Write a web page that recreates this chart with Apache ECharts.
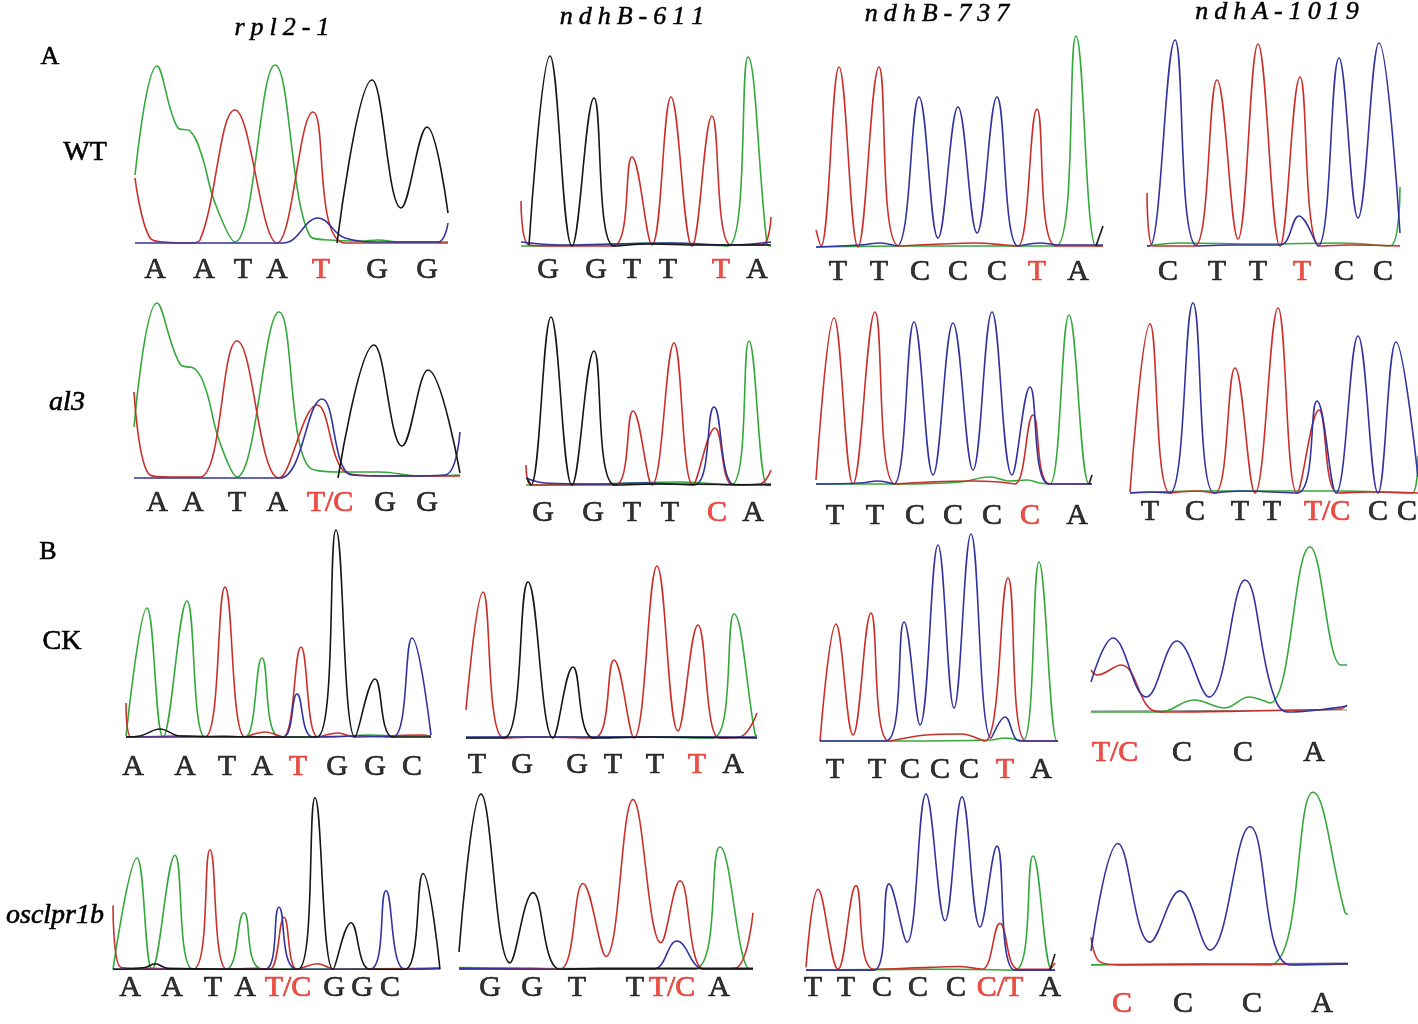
<!DOCTYPE html>
<html>
<head>
<meta charset="utf-8">
<title>chromatograms</title>
<script src="https://cdn.jsdelivr.net/npm/echarts@6/dist/echarts.min.js"></script>
<style>
  html, body { margin: 0; padding: 0; background: #fff; }
  #chart { width: 1418px; height: 1024px; }
</style>
</head>
<body>
<div id="chart"></div>
<script>
// each trace: [position, signal]; position counted from the panel's left edge,
// signal counted up from the panel's baseline

// ---- A / WT ----
const rplWT_A = [[0,68],[22,177],[43,115],[55,112],[66,90],[80,40],[100,1],[140,178],[175,7],[195,3],[225,2],[243,3],[265,1],[313,1]]
const rplWT_T = [[0,65],[15,5],[30,1],[55,0],[65,3],[100,133],[142,0],[178,131],[210,0],[313,0]]
const rplWT_C = [[0,0],[148,0],[183,25],[210,5],[245,1],[303,1],[313,20]]
const rplWT_G = [[202,0],[237,163],[266,35],[292,116],[313,30]]
const rplWT_bases = ['A','A','T','A','T','G','G']
const rplWT_pos = [20,69,108,142,186,242,292]

const b611WT_G = [[8,1],[29,190],[51,0],[73,148],[93,0],[129,2],[179,1],[250,1]]
const b611WT_T = [[0,45],[8,1],[39,0],[92,0],[111,89],[131,1],[150,149],[171,0],[191,130],[210,1],[241,1],[250,29]]
const b611WT_A = [[0,0],[79,1],[139,3],[207,0],[227,189],[246,2],[250,0]]
const b611WT_C = [[0,4],[40,1],[90,2],[150,3],[210,1],[250,4]]
const b611WT_bases = ['G','G','T','T','T','A']
const b611WT_pos = [27,75,111,147,200,236]

const b737WT_T = [[0,17],[5,1],[23,180],[42,0],[63,180],[83,1],[124,3],[159,4],[189,2],[202,1],[221,138],[240,1],[287,1]]
const b737WT_C = [[0,0],[44,2],[64,4],[81,1],[103,150],[122,9],[142,140],[161,14],[181,150],[202,1],[224,4],[244,2],[287,2]]
const b737WT_A = [[0,0],[84,1],[194,1],[240,1],[260,211],[280,1],[287,1]]
const b737WT_G = [[280,1],[287,21]]
const b737WT_bases = ['T','T','C','C','C','T','A']
const b737WT_pos = [22,63,104,142,181,221,262]

const a1019WT_T = [[0,54],[6,1],[28,1],[48,1],[70,167],[91,8],[111,203],[133,1],[153,170],[173,1],[203,2],[253,1]]
const a1019WT_C = [[0,1],[3,1],[28,207],[50,1],[83,2],[133,2],[152,31],[171,1],[192,189],[211,29],[232,204],[253,14]]
const a1019WT_A = [[0,1],[33,4],[113,3],[193,4],[243,1],[253,60]]
const a1019WT_bases = ['C','T','T','T','C','C']
const a1019WT_pos = [21,70,111,155,197,236]

// ---- A / al3 ----
const rplAl_A = [[0,51],[23,175],[46,114],[61,109],[72,88],[85,38],[103,1],[145,166],[176,10],[211,6],[246,6],[286,2],[326,3]]
const rplAl_T = [[0,86],[16,3],[36,1],[66,1],[103,137],[145,0],[183,73],[213,5],[246,2],[326,2]]
const rplAl_C = [[0,0],[106,0],[146,0],[188,79],[218,3],[266,2],[311,3],[326,46]]
const rplAl_G = [[204,0],[240,133],[268,32],[294,108],[326,5]]
const rplAl_bases = ['A','A','T','A','T/C','G','G']
const rplAl_pos = [23,59,103,143,196,251,293]

const b611Al_G = [[1,7],[5,0],[25,168],[46,0],[68,134],[89,0],[134,1],[245,0]]
const b611Al_T = [[0,20],[5,0],[44,0],[89,0],[107,74],[126,0],[148,142],[167,0],[189,57],[207,0],[234,1],[245,15]]
const b611Al_C = [[0,7],[19,2],[74,1],[114,2],[168,0],[188,78],[209,0],[245,1]]
const b611Al_A = [[0,0],[74,1],[154,3],[205,0],[223,144],[241,0],[245,0]]
const b611Al_bases = ['G','G','T','T','C','A']
const b611Al_pos = [17,67,106,144,191,227]

const b737Al_T = [[0,4],[18,166],[37,0],[59,172],[79,0],[114,2],[154,3],[184,2],[199,0],[217,69],[234,0],[276,0]]
const b737Al_C = [[0,0],[44,1],[62,3],[78,0],[98,162],[117,9],[137,161],[157,14],[176,172],[196,9],[214,97],[233,0],[276,0]]
const b737Al_A = [[0,0],[84,0],[144,2],[174,7],[194,3],[211,4],[224,1],[234,0],[253,169],[273,0],[276,0]]
const b737Al_G = [[273,0],[276,9]]
const b737Al_bases = ['T','T','C','C','C','C','A']
const b737Al_pos = [19,59,99,137,176,214,261]

const a1019Al_T = [[0,1],[20,169],[40,0],[65,2],[85,0],[105,125],[125,0],[148,185],[167,0],[189,83],[208,0],[240,1],[288,0]]
const a1019Al_C = [[0,0],[20,1],[40,0],[63,190],[84,0],[110,2],[167,0],[187,92],[206,0],[228,157],[248,0],[266,151],[288,16]]
const a1019Al_A = [[0,0],[70,2],[150,2],[210,2],[282,0],[288,37]]
const a1019Al_bases = ['T','C','T','T','T/C','C','C']
const a1019Al_pos = [20,65,110,142,197,248,277]

// ---- B / CK ----
const rplCK_A = [[0,1],[21,129],[37,0],[61,136],[79,0],[99,1],[119,0],[136,79],[154,0],[204,0],[244,2],[274,1],[305,1]]
const rplCK_T = [[0,34],[5,0],[54,1],[79,0],[99,150],[119,0],[139,5],[157,0],[175,90],[192,0],[212,4],[229,0],[294,2],[305,1]]
const rplCK_C = [[0,0],[124,0],[157,0],[171,43],[187,0],[234,1],[267,0],[286,99],[305,2]]
const rplCK_G = [[0,0],[14,1],[34,8],[54,1],[191,0],[210,207],[229,0],[249,58],[267,0],[305,0]]
const rplCK_bases = ['A','A','T','A','T','G','G','C']
const rplCK_pos = [7,59,101,136,172,211,249,286]

const b611CK_T = [[0,28],[17,146],[38,0],[74,1],[128,0],[148,78],[168,0],[191,172],[212,7],[232,113],[253,0],[274,1],[291,25]]
const b611CK_G = [[0,0],[38,0],[62,156],[87,0],[107,71],[128,0],[184,1],[291,0]]
const b611CK_A = [[0,0],[64,1],[154,1],[247,0],[268,124],[289,4],[291,2]]
const b611CK_C = [[0,1],[100,1],[200,1],[291,1]]
const b611CK_bases = ['T','G','G','T','T','T','A']
const b611CK_pos = [11,56,111,147,189,231,267]

const b737CK_T = [[0,0],[16,117],[33,6],[51,128],[69,0],[106,6],[141,7],[165,0],[188,163],[206,0],[238,0]]
const b737CK_C = [[0,0],[66,0],[84,119],[100,16],[118,196],[134,33],[151,207],[171,3],[185,24],[200,0],[238,0]]
const b737CK_A = [[0,0],[80,0],[170,1],[185,3],[203,0],[219,179],[237,0],[238,0]]
const b737CK_bases = ['T','T','C','C','C','T','A']
const b737CK_pos = [15,57,90,120,149,185,221]

const a1019CK_C = [[0,30],[22,74],[55,15],[86,71],[118,15],[154,132],[181,22],[197,0],[256,6]]
const a1019CK_T = [[0,42],[6,37],[30,47],[61,2],[74,0],[159,1],[209,2],[249,3],[256,7]]
const a1019CK_A = [[0,0],[69,0],[103,12],[134,4],[158,15],[179,9],[219,165],[250,47],[256,47]]
const a1019CK_G = [[0,1],[256,2]]
const a1019CK_bases = ['T/C','C','C','A']
const a1019CK_pos = [24,91,152,223]

// ---- B / osclpr1b ----
const rplOs_T = [[0,70],[8,2],[37,1],[80,0],[97,131],[114,0],[142,1],[157,0],[171,57],[184,0],[205,6],[222,0],[327,1]]
const rplOs_A = [[0,0],[24,122],[39,0],[62,125],[80,0],[113,0],[131,62],[150,0],[327,1]]
const rplOs_C = [[0,0],[152,0],[166,68],[184,0],[257,0],[273,86],[292,0],[327,1]]
const rplOs_G = [[0,0],[32,2],[42,6],[55,1],[185,0],[202,188],[220,0],[238,51],[257,0],[292,0],[310,105],[327,0]]
const rplOs_bases = ['A','A','T','A','T/C','G','G','C']
const rplOs_pos = [17,59,100,132,175,221,249,277]

const b611Os_G = [[0,19],[22,192],[51,7],[74,84],[101,0],[141,1],[294,1]]
const b611Os_T = [[0,0],[71,1],[101,0],[124,94],[147,14],[174,186],[202,29],[221,97],[245,0],[276,1],[294,62]]
const b611Os_C = [[0,1],[101,0],[194,0],[218,31],[245,0],[294,0]]
const b611Os_A = [[0,2],[61,1],[235,0],[261,134],[291,0],[294,0]]
const b611Os_bases = ['G','G','T','T','T/C','A']
const b611Os_pos = [31,73,118,176,213,260]

const b737Os_T = [[0,3],[12,90],[32,1],[50,94],[68,1],[124,3],[154,4],[176,1],[194,52],[212,1],[242,1],[249,8]]
const b737Os_C = [[0,0],[68,0],[83,96],[101,31],[120,196],[139,55],[156,193],[174,48],[191,138],[209,0],[249,0]]
const b737Os_A = [[0,0],[144,1],[209,0],[227,127],[246,0],[249,0]]
const b737Os_G = [[244,0],[249,18]]
const b737Os_bases = ['T','T','C','C','C','C/T','A']
const b737Os_pos = [7,40,76,112,150,194,244]

const a1019Os_C = [[0,14],[27,123],[59,23],[89,75],[119,15],[159,140],[199,0],[257,1]]
const a1019Os_T = [[0,28],[9,3],[29,0],[257,1]]
const a1019Os_A = [[0,0],[109,1],[179,0],[222,175],[254,53],[257,51]]
const a1019Os_G = [[0,0],[257,2]]
const a1019Os_bases = ['C','C','C','A']
const a1019Os_pos = [31,92,161,231]

const columnTitles = ['rpl2-1', 'ndhB-611', 'ndhB-737', 'ndhA-1019']
const rowLabels = ['WT', 'al3', 'CK', 'osclpr1b']
const partLabels = ['A', 'B']

// panel placement on the page (pixels); red = indexes of the edited base
const panels = [
  { left: 135, base: 243, width: 313, labelY: -27, tr: { A: rplWT_A, T: rplWT_T, C: rplWT_C, G: rplWT_G }, bases: rplWT_bases, pos: rplWT_pos, red: [4] },
  { left: 521, base: 246, width: 250, labelY: -24, tr: { A: b611WT_A, T: b611WT_T, C: b611WT_C, G: b611WT_G }, bases: b611WT_bases, pos: b611WT_pos, red: [4] },
  { left: 816, base: 247, width: 287, labelY: -25, tr: { A: b737WT_A, T: b737WT_T, C: b737WT_C, G: b737WT_G }, bases: b737WT_bases, pos: b737WT_pos, red: [5] },
  { left: 1147, base: 247, width: 253, labelY: -25, tr: { A: a1019WT_A, T: a1019WT_T, C: a1019WT_C }, bases: a1019WT_bases, pos: a1019WT_pos, red: [3] },

  { left: 134, base: 478, width: 326, labelY: -25, tr: { A: rplAl_A, T: rplAl_T, C: rplAl_C, G: rplAl_G }, bases: rplAl_bases, pos: rplAl_pos, red: [4] },
  { left: 526, base: 485, width: 245, labelY: -28, tr: { A: b611Al_A, T: b611Al_T, C: b611Al_C, G: b611Al_G }, bases: b611Al_bases, pos: b611Al_pos, red: [4] },
  { left: 816, base: 484, width: 276, labelY: -32, tr: { A: b737Al_A, T: b737Al_T, C: b737Al_C, G: b737Al_G }, bases: b737Al_bases, pos: b737Al_pos, red: [5] },
  { left: 1130, base: 493, width: 288, labelY: -19, tr: { A: a1019Al_A, T: a1019Al_T, C: a1019Al_C }, bases: a1019Al_bases, pos: a1019Al_pos, red: [4] },

  { left: 126, base: 737, width: 305, labelY: -30, tr: { A: rplCK_A, T: rplCK_T, C: rplCK_C, G: rplCK_G }, bases: rplCK_bases, pos: rplCK_pos, red: [4] },
  { left: 466, base: 738, width: 291, labelY: -27, tr: { A: b611CK_A, T: b611CK_T, C: b611CK_C, G: b611CK_G }, bases: b611CK_bases, pos: b611CK_pos, red: [5] },
  { left: 820, base: 741, width: 238, labelY: -29, tr: { A: b737CK_A, T: b737CK_T, C: b737CK_C }, bases: b737CK_bases, pos: b737CK_pos, red: [5] },
  { left: 1091, base: 712, width: 256, labelY: -41, tr: { G: a1019CK_G, A: a1019CK_A, T: a1019CK_T, C: a1019CK_C }, bases: a1019CK_bases, pos: a1019CK_pos, red: [0], grey: true },

  { left: 113, base: 989, width: 327, labelY: -21, tr: { A: rplOs_A, T: rplOs_T, C: rplOs_C, G: rplOs_G }, bases: rplOs_bases, pos: rplOs_pos, red: [4] },
  { left: 459, base: 989, width: 294, labelY: -21, tr: { A: b611Os_A, T: b611Os_T, C: b611Os_C, G: b611Os_G }, bases: b611Os_bases, pos: b611Os_pos, red: [4] },
  { left: 806, base: 993, width: 249, labelY: -20, tr: { A: b737Os_A, T: b737Os_T, C: b737Os_C, G: b737Os_G }, bases: b737Os_bases, pos: b737Os_pos, red: [5] },
  { left: 1091, base: 968, width: 257, labelY: -40, tr: { G: a1019Os_G, A: a1019Os_A, T: a1019Os_T, C: a1019Os_C }, bases: a1019Os_bases, pos: a1019Os_pos, red: [0], grey: true },
]

const traceColor = { A: '#34a83a', T: '#c9302c', C: '#33339f', G: '#161616' }
const markRed = '#e3261c'
const serif = '"Liberation Serif", "Times New Roman", serif'
const UP = 225
const DOWN = 60

const grid = []
const xAxis = []
const yAxis = []
const series = []

panels.forEach((p, i) => {
  grid.push({ left: p.left, top: p.base - UP, width: p.width, height: UP + DOWN })
  xAxis.push({ gridIndex: i, type: 'value', min: 0, max: p.width, show: false })
  yAxis.push({ gridIndex: i, type: 'value', min: -DOWN, max: UP, show: false })
  Object.keys(p.tr).forEach(b => {
    const faint = b === 'G' && p.grey
    series.push({
      type: 'line',
      xAxisIndex: i,
      yAxisIndex: i,
      data: p.tr[b],
      smooth: 0.4,
      showSymbol: false,
      clip: false,
      silent: true,
      lineStyle: { color: faint ? '#8a8a8a' : traceColor[b], width: faint ? 1 : 1.6 },
    })
  })
  series.push({
    type: 'scatter',
    xAxisIndex: i,
    yAxisIndex: i,
    symbolSize: 1,
    itemStyle: { color: 'rgba(0,0,0,0)' },
    silent: true,
    data: p.bases.map((b, k) => {
      const c = p.red.includes(k) ? markRed : '#000'
      return {
        value: [p.pos[k], p.labelY],
        label: { formatter: b, color: c, textBorderColor: c, textBorderWidth: 0.7 },
      }
    }),
    label: { show: true, position: 'inside', fontFamily: serif, fontSize: 30 },
  })
})

const spaced = s => s.split('').map(ch => `{s|${ch}}`).join('')
const titleXY = [[282, 28], [632, 17], [937, 14], [1277, 12]]
const graphic = columnTitles.map((t, k) => ({
  type: 'text',
  x: titleXY[k][0],
  y: titleXY[k][1],
  style: {
    text: spaced(t),
    align: 'center',
    verticalAlign: 'middle',
    fill: '#000',
    font: `italic 26px ${serif}`,
    rich: { s: { fontFamily: serif, fontStyle: 'italic', fontSize: 26, padding: [0, 3], fill: '#000', stroke: '#000', lineWidth: 0.5 } },
  },
}))
const rowXY = [[85, 153, false], [67, 403, true], [62, 642, false], [55, 916, true]]
rowLabels.forEach((t, k) => {
  graphic.push({
    type: 'text', x: rowXY[k][0], y: rowXY[k][1],
    style: { text: t, align: 'center', verticalAlign: 'middle', fill: '#000', stroke: '#000', lineWidth: 0.6, font: `${rowXY[k][2] ? 'italic ' : ''}28px ${serif}` },
  })
})
const partXY = [[50, 57], [48, 552]]
partLabels.forEach((t, k) => {
  graphic.push({
    type: 'text', x: partXY[k][0], y: partXY[k][1],
    style: { text: t, align: 'center', verticalAlign: 'middle', fill: '#000', stroke: '#000', lineWidth: 0.6, font: `26px ${serif}` },
  })
})

const chart = echarts.init(document.getElementById('chart'))
chart.setOption({
  backgroundColor: '#fff',
  animation: false,
  grid,
  xAxis,
  yAxis,
  series,
  graphic,
})
</script>
</body>
</html>
